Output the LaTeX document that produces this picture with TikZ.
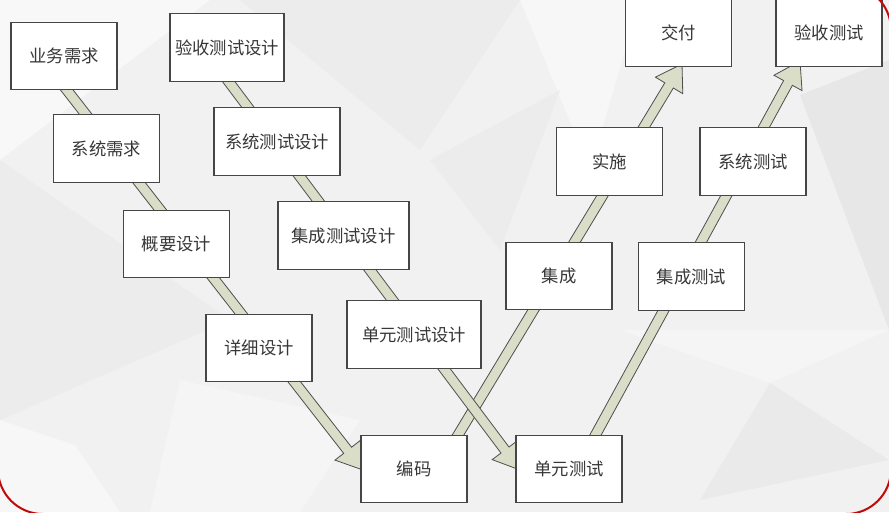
\documentclass[tikz,border=0pt]{standalone}
\usepackage{fontspec}
\newfontfamily\cjk{Noto Sans CJK SC}
\usetikzlibrary{calc}
\definecolor{arrfill}{RGB}{218,222,200}
\definecolor{arrline}{RGB}{78,78,78}
\definecolor{boxline}{RGB}{70,70,70}
\definecolor{txt}{RGB}{55,55,55}
\definecolor{framered}{RGB}{192,10,10}
\definecolor{bgbase}{RGB}{241,241,241}
\newcommand\blockarrow[2]{%
  \path ($(#2)!18.75pt!(#1)$) coordinate (hd);
  \filldraw[arrowband] ($(#1)!3.75pt!90:(#2)$) -- ($(hd)!3.75pt!90:(#2)$) -- ($(hd)!12pt!90:(#2)$) -- (#2) -- ($(hd)!12pt!-90:(#2)$) -- ($(hd)!3.75pt!-90:(#2)$) -- ($(#1)!3.75pt!-90:(#2)$) -- cycle;}
\begin{document}
\begin{tikzpicture}[x=0.75pt,y=-0.75pt,
  box/.style={draw=boxline, line width=0.9pt, fill=white, text=txt,
    font=\cjk\fontsize{13}{15}\selectfont, inner sep=0pt,
    minimum width=#1*0.75pt, minimum height=50.5pt},
  box/.default=106,
  arrowband/.style={fill=arrfill, draw=arrline, line width=0.6pt, line join=miter},
  facet/.style={fill=#1, draw=none}]
\useasboundingbox (0,0) rectangle (889,512);
\clip (0,0) rectangle (889,512);
% background
\fill[bgbase] (0,0) rectangle (889,512);
\fill[facet=white!50!bgbase] (0,0) -- (210,0) -- (0,160) -- cycle;
\fill[facet=black!2!bgbase] (240,0) -- (520,0) -- (420,150) -- cycle;
\fill[facet=white!45!bgbase] (520,0) -- (640,0) -- (590,170) -- cycle;
\fill[facet=black!4!bgbase] (800,95) -- (889,60) -- (889,330) -- cycle;
\fill[facet=black!3!bgbase] (770,383) -- (889,460) -- (700,500) -- cycle;
\fill[facet=black!2!bgbase] (0,160) -- (230,320) -- (0,420) -- cycle;
\fill[facet=white!40!bgbase] (0,420) -- (75,445) -- (120,512) -- (0,512) -- cycle;
\fill[facet=white!30!bgbase] (180,380) -- (360,420) -- (300,512) -- (150,512) -- cycle;
\fill[facet=black!2!bgbase] (430,160) -- (560,90) -- (500,250) -- cycle;
\fill[facet=white!30!bgbase] (620,330) -- (889,330) -- (770,383) -- cycle;
% arrow coordinates
\coordinate (a1s) at (59,80);   \coordinate (a1e) at (363,470);
\coordinate (a2s) at (220,70);  \coordinate (a2e) at (520,470);
\coordinate (a3s) at (452,445); \coordinate (a3e) at (682,64);
\coordinate (a4s) at (590,445); \coordinate (a4e) at (800,61);
\blockarrow{a1s}{a1e}
\blockarrow{a3s}{a3e}
\blockarrow{a2s}{a2e}
\blockarrow{a4s}{a4e}
% boxes
\node[box] (ywxq) at (64,56) {业务需求};
\node[box=114] (yscssj) at (227,47.5) {验收测试设计};
\node[box] (xtxq) at (106.5,148.5) {系统需求};
\node[box=126] (xtcssj) at (277,141.5) {系统测试设计};
\node[box] (gysj) at (176.5,244) {概要设计};
\node[box=131] (jccssj) at (343.5,235.5) {集成测试设计};
\node[box] (xxsj) at (259,348) {详细设计};
\node[box=134] (dycssj) at (414,334.5) {单元测试设计};
\node[box] (bm) at (414,469) {编码};
\node[box] (dycs) at (569,469) {单元测试};
\node[box] (jc) at (559,276) {集成};
\node[box] (jccs) at (691.5,276.5) {集成测试};
\node[box] (ss) at (609.5,161.5) {实施};
\node[box] (xtcs) at (753,161.5) {系统测试};
\node[box] (jf) at (678.5,33) {交付};
\node[box] (yscs) at (829,33) {验收测试};
% red frame corners
\draw[framered, line width=1.5pt] (-2,469) .. controls (-2,494) and (18,514) .. (43,514);
\draw[framered, line width=1.5pt] (891,469) .. controls (891,494) and (871,514) .. (846,514);
\draw[framered, line width=1.5pt] (846,-15) .. controls (871,-15) and (891,5) .. (891,30);
\end{tikzpicture}
\end{document}
